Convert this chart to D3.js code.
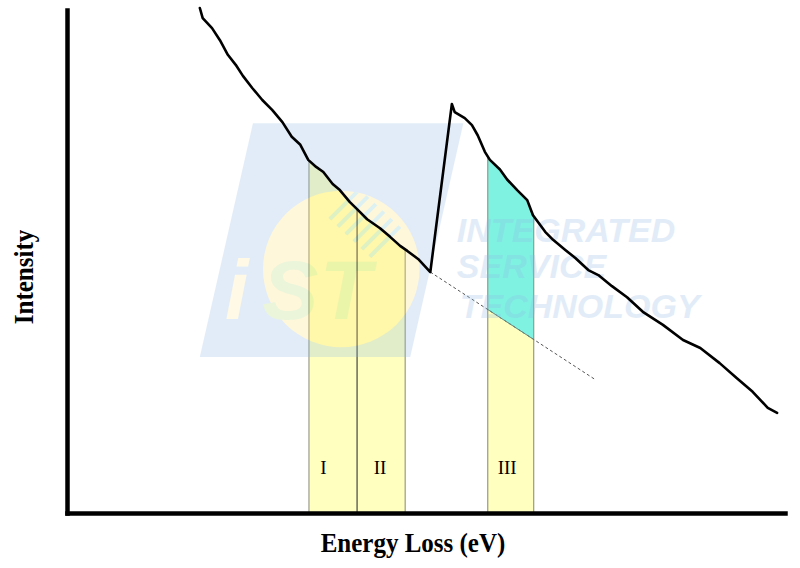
<!DOCTYPE html>
<html>
<head>
<meta charset="utf-8">
<script src="https://cdn.jsdelivr.net/npm/d3@7"></script>
<style>
  html, body { margin: 0; padding: 0; background: #fff; }
  svg { display: block; }
</style>
</head>
<body>
<svg id="chart" width="800" height="568"></svg>
<script>
// ---- data (arbitrary units: energy loss 0..100, intensity 0..100) ----
const energy = [18.5, 18.9, 20.2, 21.3, 22.4, 23.5, 24.5, 25.8, 27.2, 28.6, 30.0, 31.3, 32.5, 33.6, 34.7, 35.7, 37.0, 38.0, 39.4, 40.4, 41.8, 43.6, 45.0, 46.4, 47.4, 48.9, 50.6,
                53.6, 54.0, 55.4, 56.4, 57.2, 58.2, 58.9, 60.3, 61.3, 62.7, 64.1, 64.9, 66.6, 67.7, 69.4, 70.8, 72.6, 74.0, 75.9, 78.0, 80.2, 83.0, 85.8, 88.2, 90.9, 93.3, 95.5, 97.6, 98.9];
const intensity = [100.4, 98.4, 96.4, 94.0, 91.1, 89.1, 86.9, 84.5, 82.1, 80.1, 77.7, 74.8, 73.2, 70.2, 68.8, 67.8, 65.4, 64.2, 61.8, 60.4, 58.4, 56.6, 54.9, 53.1, 52.1, 50.5, 47.9,
                   81.3, 79.7, 78.5, 77.1, 75.1, 71.8, 70.2, 68.3, 66.3, 64.2, 62.2, 59.2, 55.9, 54.3, 52.3, 50.7, 48.3, 47.3, 45.1, 42.9, 40.0, 37.4, 34.4, 32.8, 29.8, 26.8, 24.1, 20.9, 19.9];
const backgroundEnergy = [50.6, 73.6];
const backgroundIntensity = [47.9, 26.5];
const windowLabels = ["I", "II", "III"];
const windowStart = [33.7, 40.4, 58.6];
const windowEnd = [40.4, 47.1, 65.0];
const labelEnergy = [35.7, 43.6, 61.3];
const labelIntensity = 7.7;

// ---- layout ----
const svg = d3.select("#chart");
const x = d3.scaleLinear().domain([0, 100]).range([67, 785]);
const y = d3.scaleLinear().domain([0, 100]).range([513, 10]);

const curve = energy.map((e, i) => [e, intensity[i]]);
const bg = backgroundEnergy.map((e, i) => [e, backgroundIntensity[i]]);

const bis = d3.bisector(d => d[0]).left;
function curveAt(e) {
  const i = Math.max(1, Math.min(curve.length - 1, bis(curve, e)));
  const a = curve[i - 1], b = curve[i];
  const t = (e - a[0]) / (b[0] - a[0]);
  return a[1] + t * (b[1] - a[1]);
}

const defs = svg.append("defs");
windowLabels.forEach((lab, i) => {
  defs.append("clipPath").attr("id", "clip" + i)
    .append("rect")
    .attr("x", x(windowStart[i])).attr("width", x(windowEnd[i]) - x(windowStart[i]))
    .attr("y", y(100)).attr("height", y(0) - y(100));
});
defs.append("clipPath").attr("id", "clipCircle")
  .append("circle").attr("cx", x(38.2)).attr("cy", y(48.5)).attr("r", x(38.2 + 10.9) - x(38.2));

const areaUnder = d3.area().x(d => x(d[0])).y0(y(0)).y1(d => y(d[1]));

// window fills
windowLabels.forEach((lab, i) => {
  const g = svg.append("g").attr("clip-path", `url(#clip${i})`);
  if (i === 2) {
    g.append("path").attr("d", areaUnder(curve)).attr("fill", "#80f2e2");
    g.append("path").attr("d", areaUnder(bg)).attr("fill", "#ffffbf");
  } else {
    g.append("path").attr("d", areaUnder(curve)).attr("fill", "#ffffbf");
  }
});

// window edges
const edges = [];
windowLabels.forEach((lab, i) => {
  edges.push({ e: windowStart[i], c: i === 1 ? "#444" : "#9a9a88" });
  edges.push({ e: windowEnd[i], c: "#9a9a88" });
});
svg.append("g").selectAll("line").data(edges.filter((d, i) => !(i === 1))).join("line")
  .attr("x1", d => x(d.e)).attr("x2", d => x(d.e))
  .attr("y1", y(0)).attr("y2", d => y(curveAt(d.e)))
  .attr("stroke", d => d.c).attr("stroke-width", 1.2);

// background extrapolation (dashed)
svg.append("path")
  .attr("d", d3.line().x(d => x(d[0])).y(d => y(d[1]))(bg))
  .attr("fill", "none").attr("stroke", "#555").attr("stroke-width", 1)
  .attr("stroke-dasharray", "3,2.5");

// boundary line between III fills
svg.append("path")
  .attr("clip-path", "url(#clip2)")
  .attr("d", d3.line().x(d => x(d[0])).y(d => y(d[1]))(bg))
  .attr("fill", "none").attr("stroke", "#6a8a80").attr("stroke-width", 1);

// ---- watermark (logo) ----
const wm = svg.append("g").attr("opacity", 0.25);
wm.append("polygon")
  .attr("points", [[25.9, 77.5], [55.2, 77.5], [47.8, 31.0], [18.5, 31.0]].map(p => [x(p[0]), y(p[1])].join(",")).join(" "))
  .attr("fill", "#8cb8e4");
wm.append("circle")
  .attr("cx", x(38.2)).attr("cy", y(48.5)).attr("r", x(38.2 + 10.9) - x(38.2))
  .attr("fill", "#ffe070");
// stripes (sun rays)
const stripeStarts = [0, 1, 2, 3, 4, 5];
const sx = x(38.7), sy = y(61.4);
wm.append("g").attr("clip-path", "url(#clipCircle)")
  .selectAll("line").data(stripeStarts).join("line")
  .attr("x1", d => sx + d * 8 - 15).attr("y1", d => sy + d * 7.5 + 15)
  .attr("x2", d => sx + d * 8 + 15).attr("y2", d => sy + d * 7.5 - 15)
  .attr("stroke", "#7cc8d0").attr("stroke-width", 4);
const logoFont = "'Liberation Sans', Arial, sans-serif";
[["i", 22.0], ["S", 27.2], ["T", 35.2]].forEach(([t, e]) => {
  wm.append("text").attr("x", x(e)).attr("y", y(38.6)).text(t)
    .attr("font-family", logoFont).attr("font-weight", "bold").attr("font-style", "italic")
    .attr("font-size", 84).attr("fill", t === "i" ? "#ffe9a0" : "#b0d870");
});
[["INTEGRATED", 54.3, 53.9], ["SERVICE", 54.3, 46.7], ["TECHNOLOGY", 54.7, 38.8]].forEach(([t, e, v]) => {
  wm.append("text").attr("x", x(e)).attr("y", y(v)).text(t)
    .attr("font-family", logoFont).attr("font-weight", "bold").attr("font-style", "italic")
    .attr("font-size", 34).attr("fill", "#8cb8e4");
});

// ---- spectrum curve ----
svg.append("path")
  .attr("d", d3.line().x(d => x(d[0])).y(d => y(d[1]))(curve))
  .attr("fill", "none").attr("stroke", "#000").attr("stroke-width", 2.6)
  .attr("stroke-linejoin", "round").attr("stroke-linecap", "round");

// ---- window labels ----
svg.append("g").selectAll("text").data(windowLabels).join("text")
  .attr("x", (d, i) => x(labelEnergy[i])).attr("y", y(labelIntensity))
  .attr("text-anchor", "middle")
  .attr("font-family", "'Liberation Serif', 'Times New Roman', serif")
  .attr("font-size", 19).text(d => d);

// ---- axes ----
const xAxis = svg.append("g").attr("transform", `translate(0,${y(0)})`)
  .call(d3.axisBottom(x).ticks(0).tickSizeOuter(0));
const yAxis = svg.append("g").attr("transform", `translate(${x(0)},0)`)
  .call(d3.axisLeft(y).ticks(0).tickSizeOuter(0));
svg.selectAll(".domain").attr("stroke", "#000").attr("stroke-width", 4.5).attr("stroke-linecap", "square");

svg.append("text")
  .attr("transform", `translate(413,552) scale(1,1.12)`)
  .attr("text-anchor", "middle")
  .attr("font-family", "'Liberation Serif', 'Times New Roman', serif")
  .attr("font-weight", "bold").attr("font-size", 25)
  .text("Energy Loss (eV)");
svg.append("text")
  .attr("transform", `translate(33,277) rotate(-90) scale(1,1.05)`)
  .attr("text-anchor", "middle")
  .attr("font-family", "'Liberation Serif', 'Times New Roman', serif")
  .attr("font-weight", "bold").attr("font-size", 25)
  .text("Intensity");
</script>
</body>
</html>
